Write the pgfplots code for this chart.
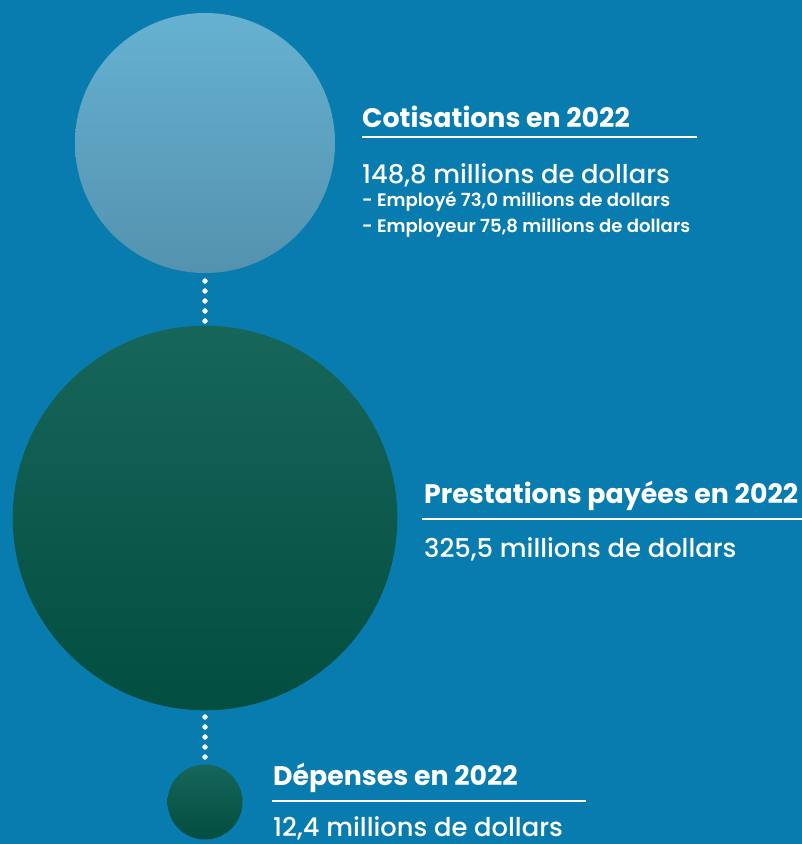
\documentclass[border=0pt]{standalone}
\usepackage{fontspec}
\setmainfont{Poppins}
\newfontfamily\med{Poppins Medium}
\newfontfamily\semi{Poppins SemiBold}
\usepackage{pgfplots}
\pgfplotsset{compat=1.18}
\definecolor{bg}{HTML}{087CAE}
\definecolor{bT}{HTML}{66B1D1}
\definecolor{bB}{HTML}{5492AF}
\definecolor{gT}{HTML}{17665A}
\definecolor{gB}{HTML}{024E40}
\pgfdeclareplotmark{blueball}{\shade[draw=none,top color=bT,bottom color=bB] (0,0) circle (\pgfplotmarksize);}
\pgfdeclareplotmark{greenball}{\shade[draw=none,top color=gT,bottom color=gB] (0,0) circle (\pgfplotmarksize);}
\begin{document}
\begin{tikzpicture}[x=1pt,y=1pt]
\useasboundingbox (0,0) rectangle (802,844);
\fill[bg] (0,0) rectangle (802,844);
\begin{axis}[at={(0,0)},anchor=south west,width=802pt,height=844pt,scale only axis,
  xmin=0,xmax=802,ymin=0,ymax=844,y dir=reverse,hide axis,clip=false]
% bubbles: area proportional to value (148.8, 325.5, 12.4)
\addplot[only marks,draw=none,mark=blueball,mark size=130pt] coordinates {(205,143)};
\addplot[only marks,draw=none,mark=greenball,mark size=192.3pt] coordinates {(205,518)};
\addplot[only marks,draw=none,mark=greenball,mark size=37.5pt] coordinates {(205,802)};
% dotted connectors
\addplot[only marks,mark=*,white,mark size=2.4pt] coordinates {(205,281)(205,291)(205,301)(205,311)(205,321)};
\addplot[only marks,mark=*,white,mark size=2.4pt] coordinates {(205,717)(205,727)(205,737)(205,747)(205,757)};
% rules
\addplot[white,line width=2pt] coordinates {(362,137)(697,137)};
\addplot[white,line width=2pt] coordinates {(422,519)(802,519)};
\addplot[white,line width=2pt] coordinates {(272,801)(586,801)};
% texts
\node[anchor=base west,white,inner sep=0pt,font=\bfseries\fontsize{26.8}{30}\selectfont] at (axis cs:362,127) {Cotisations en 2022};
\node[anchor=base west,white,inner sep=0pt,font=\med\fontsize{25.8}{30}\selectfont] at (axis cs:362,183) {148,8 millions de dollars};
\node[anchor=base west,white,inner sep=0pt,font=\semi\fontsize{18.1}{20}\selectfont] at (axis cs:362,206) {- Employé 73,0 millions de dollars};
\node[anchor=base west,white,inner sep=0pt,font=\semi\fontsize{18.1}{20}\selectfont] at (axis cs:362,232) {- Employeur 75,8 millions de dollars};
\node[anchor=base west,white,inner sep=0pt,font=\bfseries\fontsize{26.8}{30}\selectfont] at (axis cs:424,503) {Prestations payées en 2022};
\node[anchor=base west,white,inner sep=0pt,font=\med\fontsize{25.8}{30}\selectfont] at (axis cs:424,557) {325,5 millions de dollars};
\node[anchor=base west,white,inner sep=0pt,font=\bfseries\fontsize{26.8}{30}\selectfont] at (axis cs:273,785) {Dépenses en 2022};
\node[anchor=base west,white,inner sep=0pt,font=\med\fontsize{25.8}{30}\selectfont] at (axis cs:273,836) {12,4 millions de dollars};
\end{axis}
\end{tikzpicture}
\end{document}
